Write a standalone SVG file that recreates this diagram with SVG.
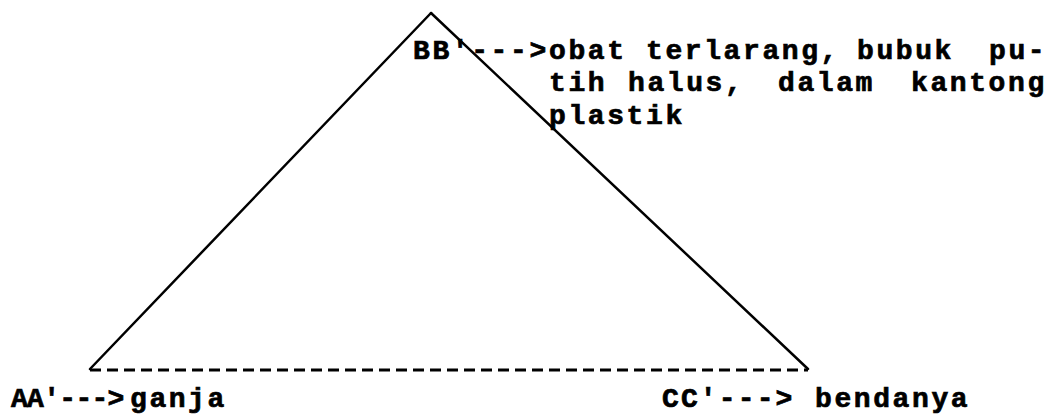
<svg xmlns="http://www.w3.org/2000/svg" width="1050" height="418" viewBox="0 0 1050 418">
<style>
.t{font-family:"Liberation Mono","DejaVu Sans Mono",monospace;font-size:28px;font-weight:bold;letter-spacing:2.6px;fill:#000;stroke:#000;stroke-width:0.7}
.edge{stroke:#000;stroke-width:2.5;fill:none;stroke-linecap:round}
.base{stroke:#000;stroke-width:3;fill:none;stroke-dasharray:11 6}
</style>
<rect width="1050" height="418" fill="#fff"/>
<g id="connectors">
<line class="edge" x1="90" y1="369" x2="431" y2="13"/>
<line class="edge" x1="431" y1="13" x2="808" y2="369"/>
<line class="base" x1="90" y1="370" x2="808" y2="370"/>
</g>
<g id="node-BB">
<text class="t" y="59"><tspan x="413">BB'---&gt;</tspan><tspan x="549">obat</tspan><tspan x="646">terlarang,</tspan><tspan x="857">bubuk</tspan><tspan x="989">pu-</tspan></text>
<text class="t" y="91"><tspan x="549">tih</tspan><tspan x="628">halus,</tspan><tspan x="778">dalam</tspan><tspan x="911">kantong</tspan></text>
<text class="t" x="549" y="124">plastik</text>
</g>
<g id="node-AA">
<text class="t" y="407"><tspan x="11" textLength="116" lengthAdjust="spacing">AA'---&gt;</tspan><tspan x="130">gan</tspan><tspan x="188">ja</tspan></text>
</g>
<g id="node-CC">
<text class="t" y="407"><tspan x="662" textLength="133" lengthAdjust="spacing">CC'---&gt;</tspan><tspan x="815">bendanya</tspan></text>
</g>
</svg>
